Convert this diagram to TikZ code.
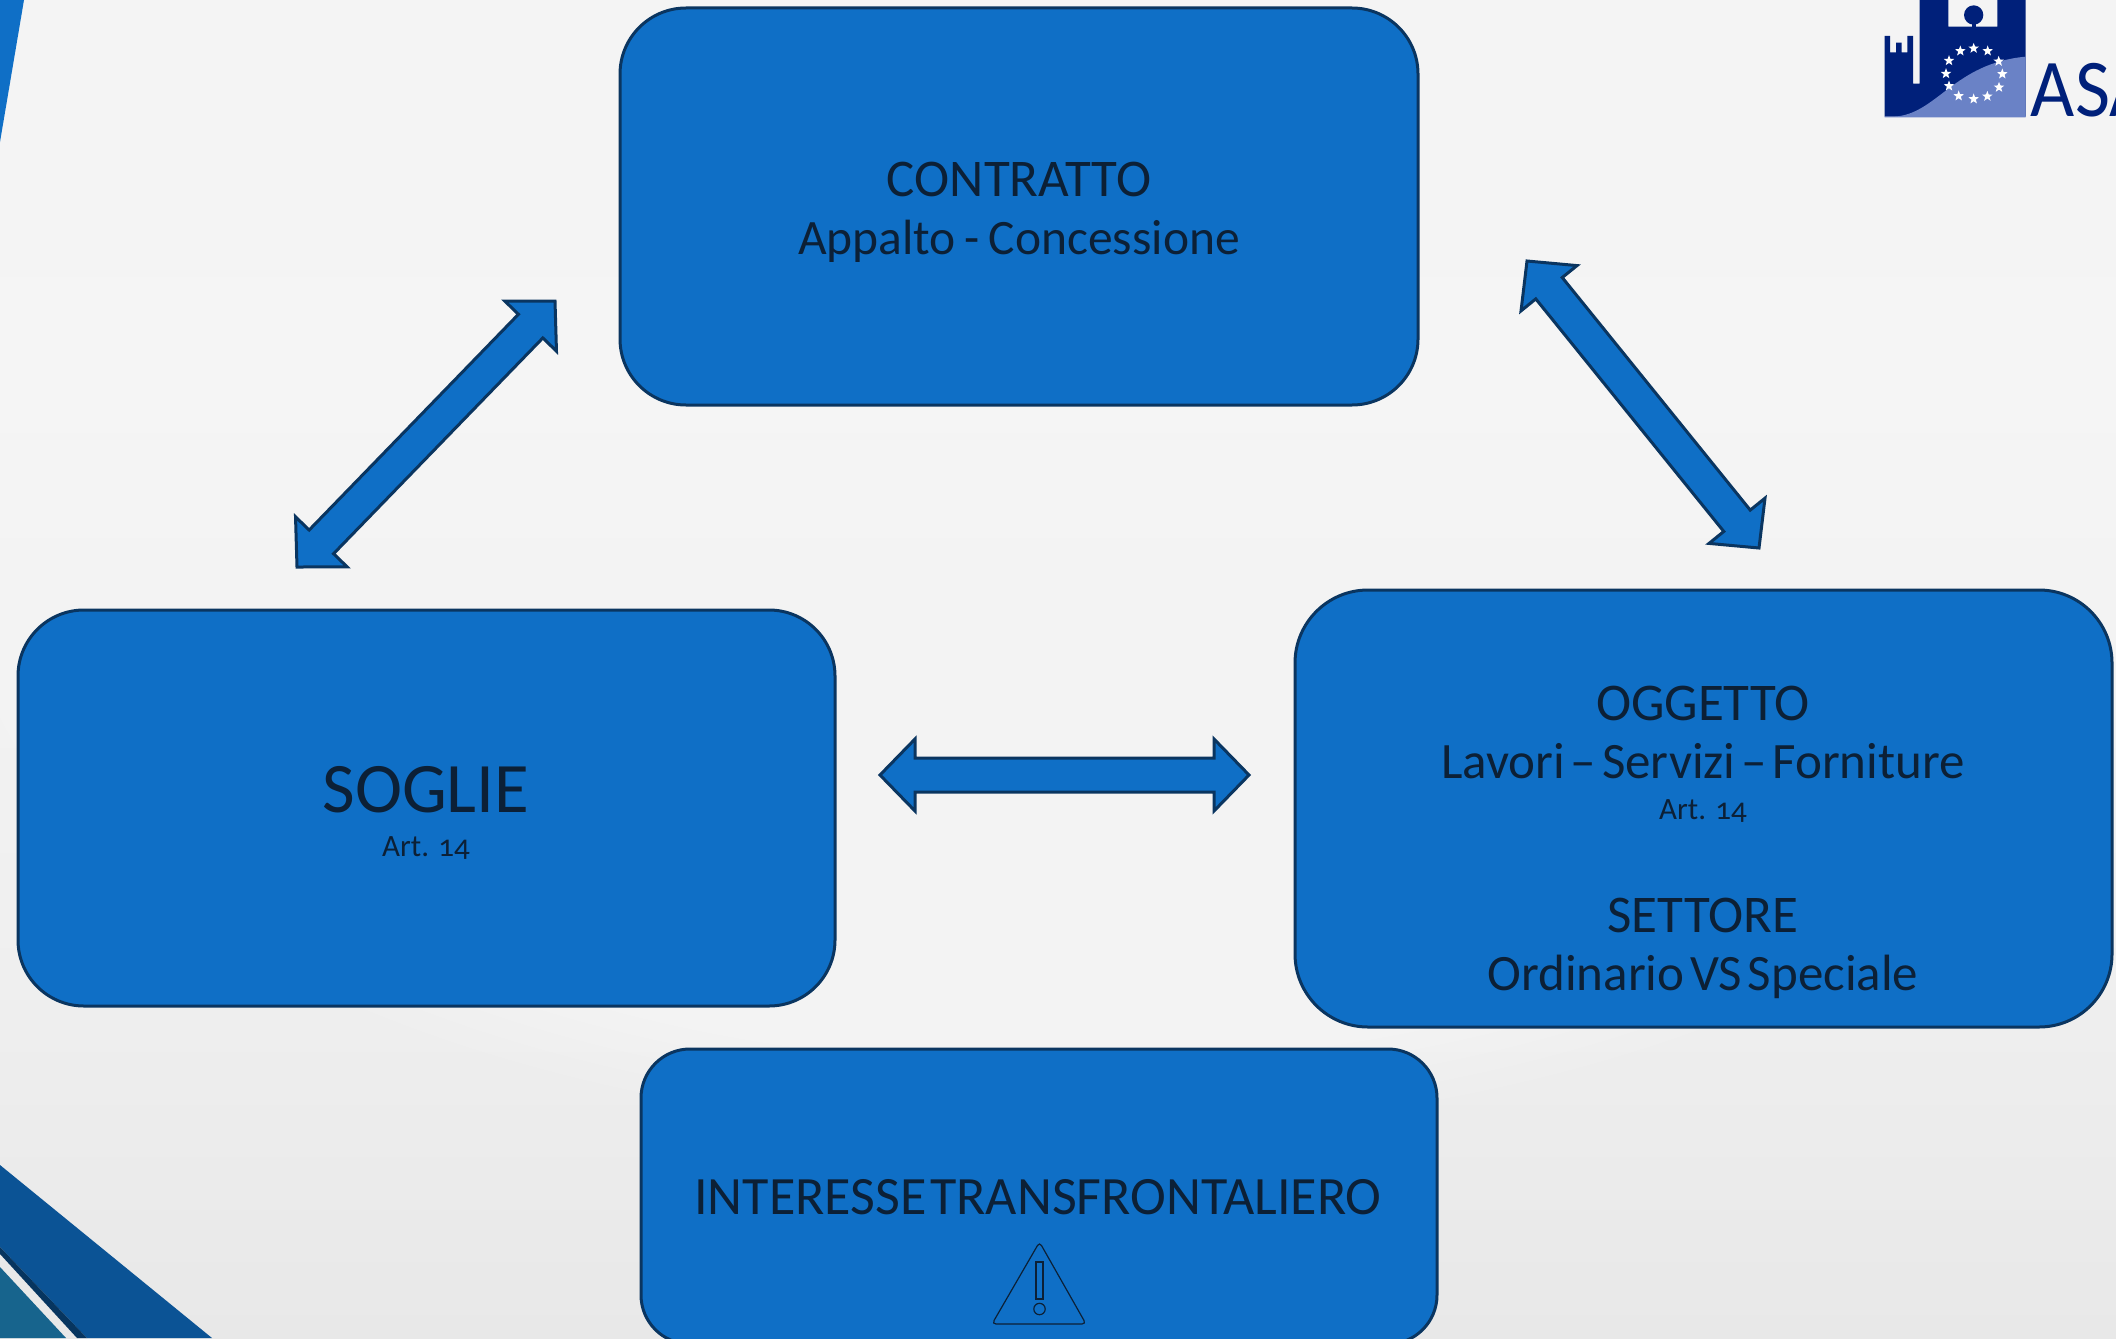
\documentclass[tikz,border=0pt]{standalone}
\usepackage{fontspec}
\setmainfont{Carlito}[Numbers=OldStyle]
\usetikzlibrary{calc,shapes.geometric}
\definecolor{boxblue}{HTML}{0F6FC6}
\definecolor{boxedge}{HTML}{0A3560}
\definecolor{ink}{HTML}{0C2036}
\definecolor{navy}{HTML}{00207A}
\definecolor{lightnavy}{HTML}{6A82C6}
\definecolor{bandblue}{HTML}{0B5395}
\definecolor{banddark}{HTML}{07355F}
\definecolor{bandteal}{HTML}{17648D}
\pgfdeclareverticalshading{pagebg}{100bp}{color(0bp)=(black!11); color(20bp)=(black!10); color(40bp)=(black!6); color(60bp)=(black!4); color(100bp)=(black!5)}
\newcommand{\fs}[1]{\fontsize{#1}{#1}\selectfont}
\newcommand{\lw}[1]{{\fontsize{51}{58}\selectfont\spaceskip=.113em\relax #1}}
\newcommand{\lwa}[1]{{\fontsize{49.5}{58}\selectfont\spaceskip=.18em\relax #1}}
\newcommand{\tw}[1]{{\fontsize{54}{58}\selectfont\spaceskip=.07em\relax #1}}
\newcommand{\dblarrow}[2]{%
  \draw[blockarrow]
    ($(#1)!35pt!(#2)!17pt!90:(#2)$) --
    ($(#1)!35pt!(#2)!36pt!90:(#2)$) -- (#1) --
    ($(#1)!35pt!(#2)!36pt!-90:(#2)$) --
    ($(#1)!35pt!(#2)!17pt!-90:(#2)$) --
    ($(#2)!35pt!(#1)!17pt!90:(#1)$) --
    ($(#2)!35pt!(#1)!36pt!90:(#1)$) -- (#2) --
    ($(#2)!35pt!(#1)!36pt!-90:(#1)$) --
    ($(#2)!35pt!(#1)!17pt!-90:(#1)$) -- cycle;}
\tikzset{
  x=1pt,y=-1pt,
  box/.style={draw=boxedge,fill=boxblue,line width=3pt,inner sep=0pt,anchor=center},
  blockarrow/.style={draw=boxedge,fill=boxblue,line width=3pt,line join=miter},
  label/.style={text=ink,align=center,inner sep=0pt,anchor=center},
  biglabel/.style={label,font=\fontsize{53}{58}\selectfont},
  eustar/.style={star,star points=5,star point ratio=2.4,fill=white,inner sep=0pt,minimum size=11pt},
  warn/.style={draw=ink,line width=1.2pt},
}
\begin{document}
\begin{tikzpicture}
\useasboundingbox (0,0) rectangle (2116,1338);
\begin{scope}
\clip (0,0) rectangle (2116,1338);
% background
\shade[shading=pagebg] (0,0) rectangle (2116,1338);
\foreach \r in {1,...,32}{
  \fill[white,opacity=0.08] (1058,590) ellipse ({\r*34} and {\r*17});
}
% corner decorations
\fill[boxblue] (0,0) -- (24,0) -- (0,142) -- cycle;
\fill[bandblue] (0,1165) -- (212,1338) -- (87,1338) -- (0,1247) -- cycle;
\fill[banddark] (0,1247) -- (87,1338) -- (77,1338) -- (0,1254) -- cycle;
\fill[bandteal] (0,1267) -- (66,1338) -- (0,1338) -- cycle;
% logo
\begin{scope}[shift={(1850,0)},x=0.3333pt,y=-0.3333pt]
\fill[navy] (104,108) -- (120,108) -- (120,157) -- (138,157) -- (138,128) -- (155,128) -- (155,157) -- (172,157) -- (172,108) -- (189,108) -- (189,251) -- (209,251) -- (209,0) -- (295,0) -- (295,80) -- (442,80) -- (442,0) -- (527,0) -- (527,350) -- (104,350) -- cycle;
\fill[lightnavy] (130,350) .. controls (260,345) and (310,190) .. (527,170) -- (527,352) -- (104,352) -- (104,350) -- cycle;
\fill[navy] (371,45) circle (29);
\fill[navy] (365,65) rectangle (378,82);
\foreach \sx/\sy [count=\i] in {371/145,413/153,446/184,457/222,447/262,412/289,371/297,326/288,297/258,288/221,297/182,331/153}{
  \node[eustar] (star\i) at (\sx,\sy) {};
}
\node[anchor=base west,inner sep=0pt,text=navy] (asa) at (542,350) {\scalebox{0.93}[1]{\fs{82}ASA}};
\end{scope}
\end{scope}
% boxes
\node[box,rounded corners=66pt,minimum width=798pt,minimum height=397pt] (contratto) at (1019,206.5) {};
\node[box,rounded corners=66pt,minimum width=817pt,minimum height=396pt] (soglie) at (426.5,808) {};
\node[box,rounded corners=73pt,minimum width=817pt,minimum height=437pt] (oggetto) at (1703.5,808.5) {};
\begin{scope}
\clip (0,0) rectangle (2116,1338);
\node[box,rounded corners=49pt,minimum width=796pt,minimum height=295pt] (interesse) at (1039,1196.5) {};
\end{scope}
% double block arrows
\coordinate (a1) at (555,301); \coordinate (a2) at (297,567);
\coordinate (b1) at (1527,261); \coordinate (b2) at (1759,548);
\coordinate (c1) at (880,775); \coordinate (c2) at (1249,775);
\dblarrow{a1}{a2}
\dblarrow{b1}{b2}
\dblarrow{c1}{c2}
% labels
\node[biglabel] (t1) at (1019,212) {CONTRATTO\\\lwa{Appalto - Concessione}};
\node[label,font=\fs{71}] (t2a) at (426,790) {SOGLIE};
\node[label,font=\fs{31}] (t2b) at (426,848) {Art. 14};
\node[biglabel] (t3a) at (1703,732) {OGGETTO\\\lw{Lavori -- Servizi -- Forniture}};
\node[label,font=\fs{31}] (t3b) at (1703,811) {Art. 14};
\node[biglabel] (t3c) at (1703,948) {SETTORE\\\lw{Ordinario VS Speciale}};
\node[label] (t4) at (1038,1197) {\tw{INTERESSE TRANSFRONTALIERO}};
% warning icon
\draw[warn,rounded corners=4pt] (1039.5,1242) -- (1086,1324) -- (992,1324) -- cycle;
\draw[warn] (1036,1262) rectangle (1043,1299);
\draw[warn] (1039.5,1309) circle (5.7);
\end{tikzpicture}
\end{document}
